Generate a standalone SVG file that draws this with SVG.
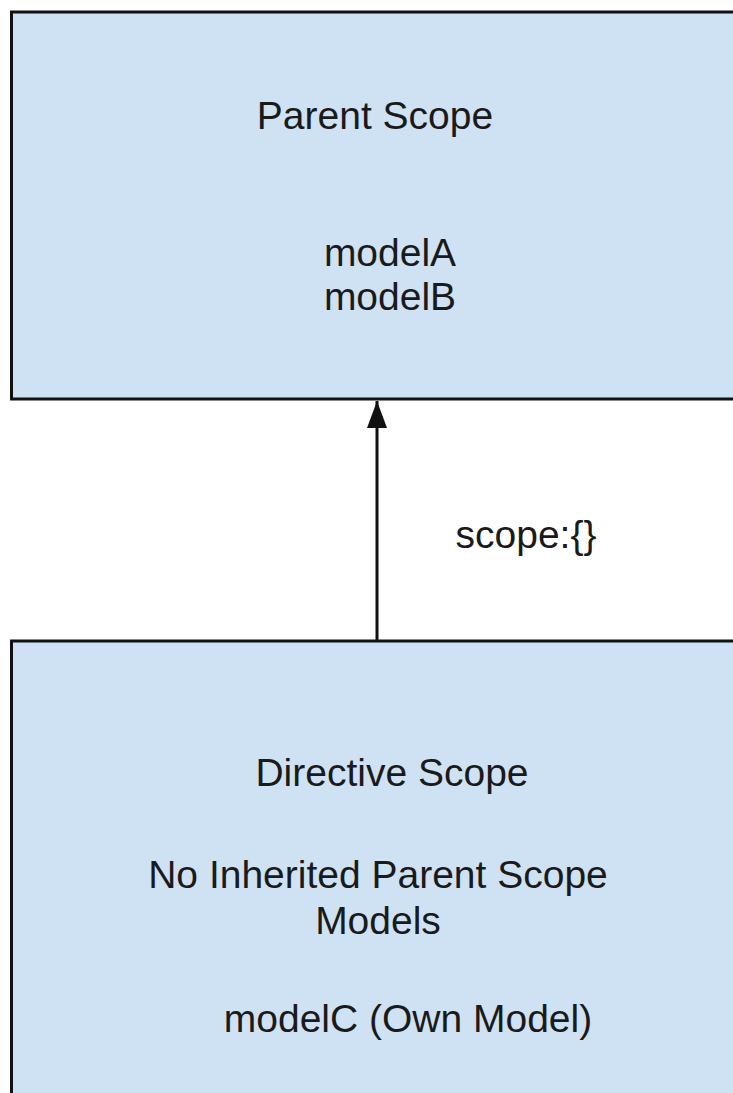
<svg xmlns="http://www.w3.org/2000/svg" width="733" height="1093" viewBox="0 0 733 1093">
<style>
.box{fill:#cfe2f3;stroke:#111;stroke-width:3}
.t{font-family:"Liberation Sans",Arial,sans-serif;font-size:39px;fill:#1a1a1a;text-anchor:middle}
.conn{stroke:#111;stroke-width:3;fill:none}
</style>
<defs>
<marker id="ah" markerUnits="userSpaceOnUse" markerWidth="27" markerHeight="20" refX="27" refY="10" orient="auto" viewBox="0 0 27 20">
<path d="M0,0 L27,10 L0,20 Z" fill="#111"/>
</marker>
</defs>
<rect width="733" height="1093" fill="#fff"/>
<g id="parent-scope">
<rect class="box" x="11.5" y="12" width="760" height="387"/>
<text class="t" x="375" y="129">Parent Scope</text>
<text class="t" x="390" y="266">modelA</text>
<text class="t" x="390" y="310">modelB</text>
</g>
<g id="directive-scope">
<rect class="box" x="11.5" y="641" width="760" height="500"/>
<text class="t" x="392" y="786">Directive Scope</text>
<text class="t" x="378" y="888">No Inherited Parent Scope</text>
<text class="t" x="378" y="934">Models</text>
<text class="t" x="408" y="1032">modelC (Own Model)</text>
</g>
<g id="connectors">
<line class="conn" x1="377" y1="640" x2="377" y2="401" marker-end="url(#ah)"/>
<text class="t" x="526" y="548">scope:{}</text>
</g>
</svg>
